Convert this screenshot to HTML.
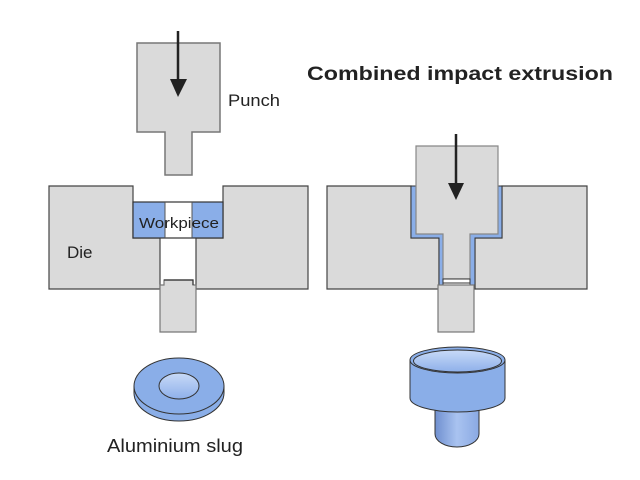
<!DOCTYPE html>
<html><head><meta charset="utf-8"><style>html,body{margin:0;padding:0;background:#fff}svg{display:block}</style></head>
<body>
<svg width="640" height="480" viewBox="0 0 640 480" xmlns="http://www.w3.org/2000/svg" font-family="Liberation Sans, sans-serif">
<defs>
<linearGradient id="g1" x1="0" y1="0" x2="0" y2="1"><stop offset="0" stop-color="#c8daf7"/><stop offset="1" stop-color="#8eb0ea"/></linearGradient>
<linearGradient id="g2" x1="0" y1="0" x2="1" y2="0"><stop offset="0" stop-color="#6f8fcf"/><stop offset="0.5" stop-color="#a9c3f0"/><stop offset="1" stop-color="#8aa9e3"/></linearGradient>
</defs>
<g stroke-linejoin="miter">
<!-- Left punch -->
<path d="M137,43 H220 V132 H192 V175 H165 V132 H137 Z" fill="#dadada" stroke="#777" stroke-width="1.5"/>
<line x1="178" y1="31" x2="178" y2="82" stroke="#222" stroke-width="2.5"/>
<polygon points="170,79 187,79 178,97" fill="#222"/>
<!-- Left die -->
<path d="M49,186 H133 V238 H160 V289 H49 Z" fill="#dadada" stroke="#444" stroke-width="1.2"/>
<path d="M223,186 H308 V289 H196 V238 H223 Z" fill="#dadada" stroke="#444" stroke-width="1.2"/>
<!-- workpiece -->
<rect x="133" y="202" width="32" height="36" fill="#8aaee8"/>
<rect x="192" y="202" width="31" height="36" fill="#8aaee8"/>
<rect x="165" y="202" width="27" height="36" fill="#fff"/>
<rect x="133" y="202" width="90" height="36" fill="none" stroke="#333" stroke-width="1.2"/>
<line x1="165" y1="202" x2="165" y2="238" stroke="#555" stroke-width="1"/>
<line x1="192" y1="202" x2="192" y2="238" stroke="#555" stroke-width="1"/>
<!-- ejector left -->
<path d="M164,280 H193 V285 H196 V332 H160 V285 H164 Z" fill="#dadada" stroke="#777" stroke-width="1.2"/>
<path d="M164,280 H193 V285" fill="none" stroke="#333" stroke-width="1.2"/>

<!-- Right die -->
<path d="M327,186 H411 V238 H439 V289 H327 Z" fill="#dadada" stroke="#444" stroke-width="1.2"/>
<path d="M502,186 H587 V289 H475 V238 H502 Z" fill="#dadada" stroke="#444" stroke-width="1.2"/>
<!-- lining -->
<path d="M411,186 V238 H439 V289 H443 V283 H470 V289 H475 V238 H502 V186 H498 V234 H470 V279 H443 V234 H416 V186 Z" fill="#8aaee8" stroke="#333" stroke-width="1"/>
<!-- right punch -->
<path d="M416,146 H498 V234 H470 V279 H443 V234 H416 Z" fill="#dadada" stroke="#888" stroke-width="1.2"/>
<rect x="443" y="279" width="27" height="4" fill="#fff" stroke="#333" stroke-width="1"/>
<line x1="456" y1="134" x2="456" y2="186" stroke="#222" stroke-width="2.5"/>
<polygon points="448,183 464,183 456,200" fill="#222"/>
<!-- ejector right -->
<rect x="438" y="285" width="36" height="47" fill="#dadada" stroke="#777" stroke-width="1.2"/>

<!-- slug -->
<path d="M134,386 V393 A45,28 0 0 0 224,393 V386 Z" fill="#8aaee8" stroke="#333" stroke-width="1"/>
<ellipse cx="179" cy="386" rx="45" ry="28" fill="#8aaee8" stroke="#333" stroke-width="1"/>
<ellipse cx="179" cy="386" rx="20" ry="13" fill="url(#g1)" stroke="#333" stroke-width="1"/>

<!-- cup -->
<path d="M435,400 V434 A22,13 0 0 0 479,434 V400 Z" fill="url(#g2)" stroke="#333" stroke-width="1"/>
<path d="M410,360 V398 A47.5,14 0 0 0 505,398 V360 Z" fill="#8aaee8" stroke="#333" stroke-width="1"/>
<ellipse cx="457.5" cy="360" rx="47.5" ry="13" fill="#8aaee8" stroke="#333" stroke-width="1"/>
<ellipse cx="457.5" cy="361" rx="44" ry="11" fill="url(#g1)" stroke="#333" stroke-width="1"/>
</g>

<text x="228" y="106" font-size="17" fill="#222" textLength="52" lengthAdjust="spacingAndGlyphs">Punch</text>
<text x="67" y="258" font-size="17" fill="#222">Die</text>
<text x="139" y="228" font-size="15" fill="#222" textLength="80" lengthAdjust="spacingAndGlyphs">Workpiece</text>
<text x="307" y="80" font-size="19" font-weight="bold" fill="#222" textLength="306" lengthAdjust="spacingAndGlyphs">Combined impact extrusion</text>
<text x="107" y="452" font-size="18" fill="#222" textLength="136" lengthAdjust="spacingAndGlyphs">Aluminium slug</text>
</svg>
</body></html>
